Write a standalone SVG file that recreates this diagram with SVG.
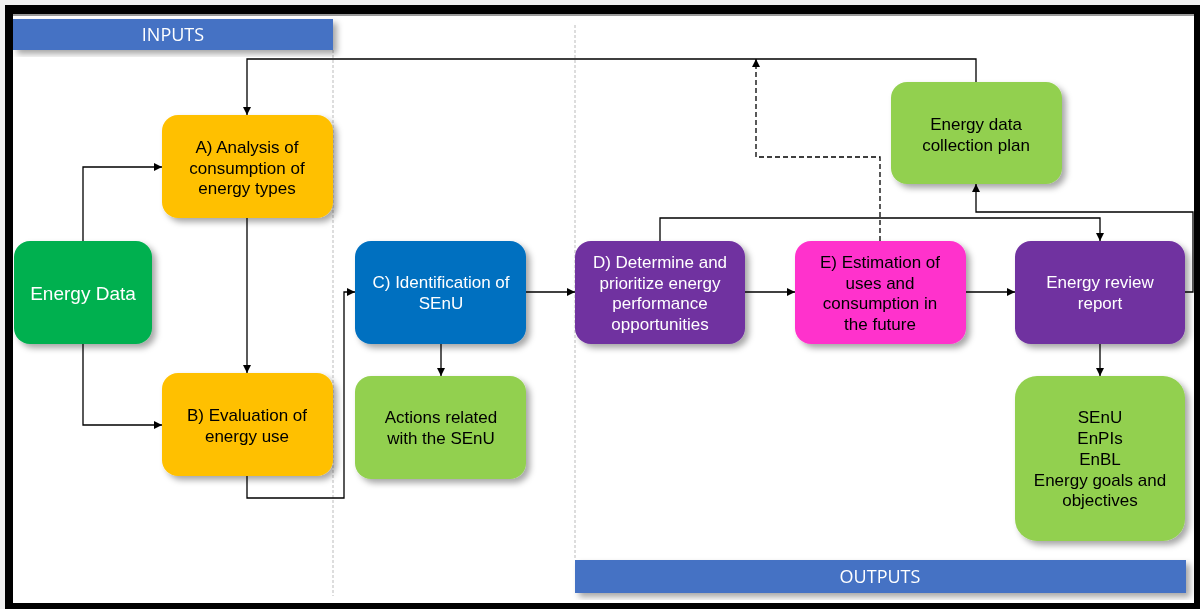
<svg xmlns="http://www.w3.org/2000/svg" width="1200" height="609" viewBox="0 0 1200 609">
<defs>
<filter id="sh" x="-10%" y="-10%" width="130%" height="130%">
<feDropShadow dx="4" dy="4" stdDeviation="3" flood-color="#000" flood-opacity="0.35"/>
</filter>
<marker id="ar" viewBox="0 0 10 10" refX="10" refY="5" markerWidth="8" markerHeight="8" markerUnits="userSpaceOnUse" orient="auto">
<path d="M0,0 L10,5 L0,10 z" fill="#000"/>
</marker>
</defs>
<style>
.node{filter:url(#sh)}
.t{font-family:"Liberation Sans",Arial,sans-serif;font-size:17px;text-anchor:middle}
.w{fill:#fff}
.k{fill:#000}
.bar{font-family:"Open Sans","Liberation Sans",sans-serif;font-size:18px;fill:#fff;text-anchor:middle}
.c{fill:none;stroke:#000;stroke-width:1.3}
.d{fill:none;stroke:#000;stroke-width:1.3;stroke-dasharray:5,3}
.div{stroke:#bbb;stroke-width:1;stroke-dasharray:3,2}
</style>
<rect x="0" y="0" width="1200" height="609" fill="#f0f0f0"/>
<rect x="5" y="5" width="1195" height="604" fill="#000"/>
<rect x="13" y="14" width="1181" height="589" fill="#fff"/>
<line x1="13" y1="15" x2="1194" y2="15" stroke="#999" stroke-width="2"/>
<line class="div" x1="333" y1="50" x2="333" y2="596"/>
<line class="div" x1="575" y1="25" x2="575" y2="560"/>

<g id="inputs" filter="url(#sh)">
<rect x="13" y="19" width="320" height="31" fill="#4472C4"/>
<text class="bar" x="173" y="41">INPUTS</text>
</g>
<g id="outputs" filter="url(#sh)">
<rect x="575" y="560" width="611" height="33" fill="#4472C4"/>
<text class="bar" x="880" y="583">OUTPUTS</text>
</g>

<g id="connectors">
<path class="c" d="M83,241 V167 H162" marker-end="url(#ar)"/>
<path class="c" d="M83,344 V425 H162" marker-end="url(#ar)"/>
<path class="c" d="M247,218 V373" marker-end="url(#ar)"/>
<path class="c" d="M247,476 V498 H344 V292 H355" marker-end="url(#ar)"/>
<path class="c" d="M441,344 V376" marker-end="url(#ar)"/>
<path class="c" d="M526,292 H575" marker-end="url(#ar)"/>
<path class="c" d="M745,292 H795" marker-end="url(#ar)"/>
<path class="c" d="M966,292 H1015" marker-end="url(#ar)"/>
<path class="c" d="M660,241 V218 H1100 V241" marker-end="url(#ar)"/>
<path class="c" d="M1185,292 H1193 V212 H976 V184" marker-end="url(#ar)"/>
<path class="c" d="M1100,344 V376" marker-end="url(#ar)"/>
<path class="c" d="M976,82 V59 H247 V115" marker-end="url(#ar)"/>
<path class="d" d="M880,241 V157 H756 V59" marker-end="url(#ar)"/>
</g>

<g id="energy-data" class="node">
<rect x="14" y="241" width="138" height="103" rx="16" fill="#00B050"/>
<text class="t w" x="83" y="300" style="font-size:19px">Energy Data</text>
</g>
<g id="node-a" class="node">
<rect x="162" y="115" width="171" height="103" rx="16" fill="#FFC000"/>
<text class="t k" x="247"><tspan x="247" y="153">A) Analysis of</tspan><tspan x="247" y="174">consumption of</tspan><tspan x="247" y="194">energy types</tspan></text>
</g>
<g id="node-b" class="node">
<rect x="162" y="373" width="171" height="103" rx="16" fill="#FFC000"/>
<text class="t k" x="247"><tspan x="247" y="421">B) Evaluation of</tspan><tspan x="247" y="442">energy use</tspan></text>
</g>
<g id="node-c" class="node">
<rect x="355" y="241" width="171" height="103" rx="16" fill="#0070C0"/>
<text class="t w" x="441"><tspan x="441" y="288">C) Identification of</tspan><tspan x="441" y="309">SEnU</tspan></text>
</g>
<g id="actions" class="node">
<rect x="355" y="376" width="171" height="103" rx="16" fill="#92D050"/>
<text class="t k" x="441"><tspan x="441" y="423">Actions related</tspan><tspan x="441" y="444">with the SEnU</tspan></text>
</g>
<g id="node-d" class="node">
<rect x="575" y="241" width="170" height="103" rx="16" fill="#7030A0"/>
<text class="t w" x="660"><tspan x="660" y="268">D) Determine and</tspan><tspan x="660" y="289">prioritize energy</tspan><tspan x="660" y="309">performance</tspan><tspan x="660" y="330">opportunities</tspan></text>
</g>
<g id="node-e" class="node">
<rect x="795" y="241" width="171" height="103" rx="16" fill="#FF33CC"/>
<text class="t k" x="880"><tspan x="880" y="268">E) Estimation of</tspan><tspan x="880" y="289">uses and</tspan><tspan x="880" y="309">consumption in</tspan><tspan x="880" y="330">the future</tspan></text>
</g>
<g id="review" class="node">
<rect x="1015" y="241" width="170" height="103" rx="16" fill="#7030A0"/>
<text class="t w" x="1100"><tspan x="1100" y="288">Energy review</tspan><tspan x="1100" y="309">report</tspan></text>
</g>
<g id="plan" class="node">
<rect x="891" y="82" width="171" height="102" rx="16" fill="#92D050"/>
<text class="t k" x="976"><tspan x="976" y="130">Energy data</tspan><tspan x="976" y="151">collection plan</tspan></text>
</g>
<g id="results" class="node">
<rect x="1015" y="376" width="170" height="165" rx="22" fill="#92D050"/>
<text class="t k" x="1100"><tspan x="1100" y="423">SEnU</tspan><tspan x="1100" y="444">EnPIs</tspan><tspan x="1100" y="465">EnBL</tspan><tspan x="1100" y="486">Energy goals and</tspan><tspan x="1100" y="506">objectives</tspan></text>
</g>
</svg>
